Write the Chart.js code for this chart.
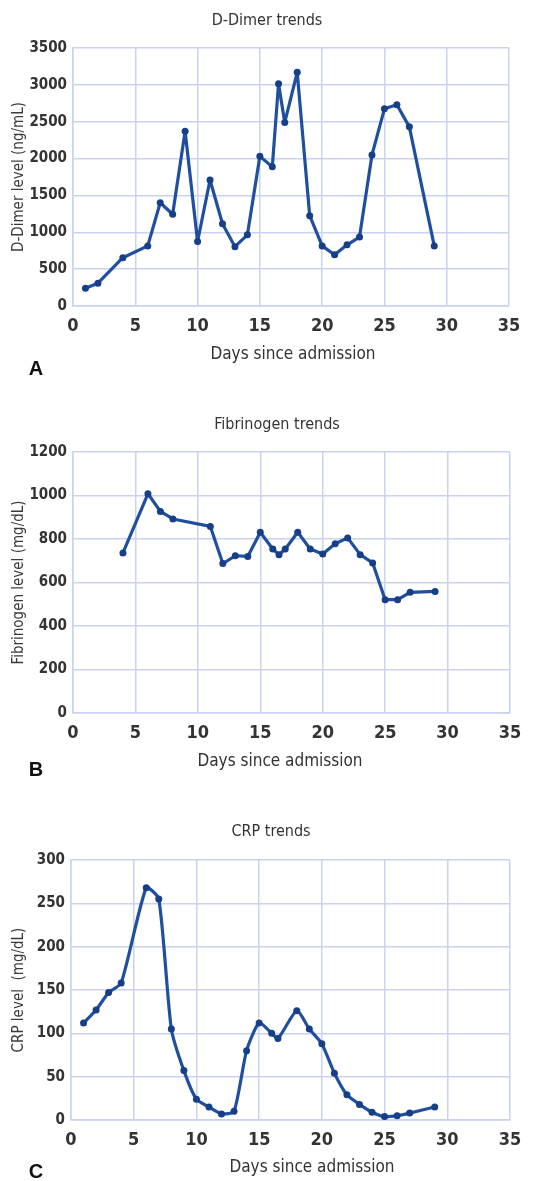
<!DOCTYPE html>
<html>
<head>
<meta charset="utf-8">
<script src="https://cdn.jsdelivr.net/npm/chart.js"></script>
<style>
  html, body { margin: 0; padding: 0; background: #fff; }
  body { width: 557px; height: 1181px; position: relative; overflow: hidden; }
  .panel { position: absolute; left: 0; }
</style>
</head>
<body>
<div class="panel" style="top:0px"><canvas id="chartA" width="557" height="390"></canvas></div>
<div class="panel" style="top:390px"><canvas id="chartB" width="557" height="395"></canvas></div>
<div class="panel" style="top:785px"><canvas id="chartC" width="557" height="396"></canvas></div>
<script>
// valores (dia desde a admissão, nível)
const dimerDays = [1, 2, 4, 6, 7, 8, 9, 10, 11, 12, 13, 14, 15, 16, 16.5, 17, 18, 19, 20, 21, 22, 23, 24, 25, 26, 27, 29];
const dimerValues = [240, 310, 655, 815, 1400, 1245, 2370, 875, 1710, 1115, 805, 965, 2030, 1890, 3015, 2490, 3170, 1225, 815, 695, 830, 935, 2050, 2675, 2730, 2430, 815];

const fibDays = [4, 6, 7, 8, 11, 12, 13, 14, 15, 16, 16.5, 17, 18, 19, 20, 21, 22, 23, 24, 25, 26, 27, 29];
const fibValues = [736, 1008, 927, 892, 858, 687, 723, 720, 831, 754, 728, 754, 831, 754, 731, 778, 805, 728, 690, 521, 521, 555, 559];

const crpDays = [1, 2, 3, 4, 6, 7, 8, 9, 10, 11, 12, 13, 14, 15, 16, 16.5, 18, 19, 20, 21, 22, 23, 24, 25, 26, 27, 29];
const crpValues = [112, 127, 147, 158, 268, 255, 105, 57, 24, 15, 7, 10, 80, 112, 100, 94, 126, 105, 88, 54, 29, 18, 9, 4, 5, 8, 15];

const xTicks = [0, 5, 10, 15, 20, 25, 30, 35];

const LINE = '#1f4f9e';
const POINT = '#173f88';
const GRID = '#c9d2ef';
const NARROW = '"Liberation Sans Narrow", "Arial Narrow", "DejaVu Sans Condensed", sans-serif';

// desenha título, título do eixo x e letra do painel
const captions = {
    id: 'captions',
    afterDraw(chart, args, opts) {
        const ctx = chart.ctx;
        ctx.save();
        ctx.textAlign = 'center';
        ctx.textBaseline = 'middle';
        (opts.items || []).forEach(it => {
            ctx.font = it.font;
            ctx.fillStyle = it.color || '#333';
            ctx.fillText(it.text, it.x, it.y);
        });
        ctx.restore();
    }
};

function makeChart(canvasId, days, values, cfg) {
    const canvas = document.getElementById(canvasId);
    const W = canvas.width, H = canvas.height;
    const pts = days.map((d, i) => ({ x: d, y: values[i] }));
    return new Chart(canvas.getContext('2d'), {
        type: 'line',
        data: {
            datasets: [{
                data: pts,
                borderColor: LINE,
                borderWidth: 3.2,
                borderJoinStyle: 'round',
                borderCapStyle: 'round',
                pointBackgroundColor: POINT,
                pointBorderColor: POINT,
                pointBorderWidth: 0,
                pointRadius: 3.5,
                tension: cfg.tension || 0,
                fill: false
            }]
        },
        options: {
            responsive: false,
            animation: false,
            layout: { padding: { left: 0, top: cfg.plot.top, right: W - cfg.plot.right, bottom: 0 } },
            plugins: {
                legend: { display: false },
                title: { display: false },
                tooltip: { enabled: false },
                captions: { items: cfg.captions }
            },
            scales: {
                x: {
                    type: 'linear',
                    min: 0, max: 35,
                    afterBuildTicks: s => { s.ticks = xTicks.map(v => ({ value: v })); },
                    afterFit: s => { s.height = H - cfg.plot.bottom; },
                    grid: { color: GRID, lineWidth: 1.5, drawTicks: false },
                    border: { color: GRID, width: 1.5 },
                    ticks: { color: '#333', padding: 10, callback: v => String(v), font: { family: NARROW, size: 18, weight: 'bold' } }
                },
                y: {
                    min: 0, max: cfg.yMax,
                    ticks: { stepSize: cfg.yStep, color: '#333', padding: 6, callback: v => String(v), font: { family: NARROW, size: 15, weight: 'bold' } },
                    afterFit: s => { s.width = cfg.plot.left; },
                    grid: { color: GRID, lineWidth: 1.5, drawTicks: false },
                    border: { color: GRID, width: 1.5 },
                    title: { display: true, text: cfg.yTitle, color: '#3a3a3a', padding: { top: 10, bottom: 0 }, font: { family: NARROW, size: 15 } }
                }
            }
        },
        plugins: [captions]
    });
}

const titleFont = '16px ' + NARROW;
const xTitleFont = '17px ' + NARROW;
const letterFont = 'bold 20px "Liberation Sans", Arial, sans-serif';

makeChart('chartA', dimerDays, dimerValues, {
    plot: { left: 73, right: 509, top: 48, bottom: 306 },
    yMax: 3500, yStep: 500,
    yTitle: 'D-Dimer level (ng/mL)',
    captions: [
        { text: 'D-Dimer trends', x: 267, y: 21, font: titleFont },
        { text: 'Days since admission', x: 293, y: 355, font: xTitleFont },
        { text: 'A', x: 36, y: 369, font: letterFont, color: '#111' }
    ]
});

makeChart('chartB', fibDays, fibValues, {
    plot: { left: 73, right: 510, top: 62, bottom: 323 },
    yMax: 1200, yStep: 200,
    yTitle: 'Fibrinogen level (mg/dL)',
    captions: [
        { text: 'Fibrinogen trends', x: 277, y: 35, font: titleFont },
        { text: 'Days since admission', x: 280, y: 372, font: xTitleFont },
        { text: 'B', x: 36, y: 380, font: letterFont, color: '#111' }
    ]
});

makeChart('chartC', crpDays, crpValues, {
    plot: { left: 71, right: 510, top: 75, bottom: 335 },
    yMax: 300, yStep: 50,
    tension: 0.2,
    yTitle: 'CRP level  (mg/dL)',
    captions: [
        { text: 'CRP trends', x: 271, y: 47, font: titleFont },
        { text: 'Days since admission', x: 312, y: 383, font: xTitleFont },
        { text: 'C', x: 36, y: 387, font: letterFont, color: '#111' }
    ]
});
</script>
</body>
</html>
